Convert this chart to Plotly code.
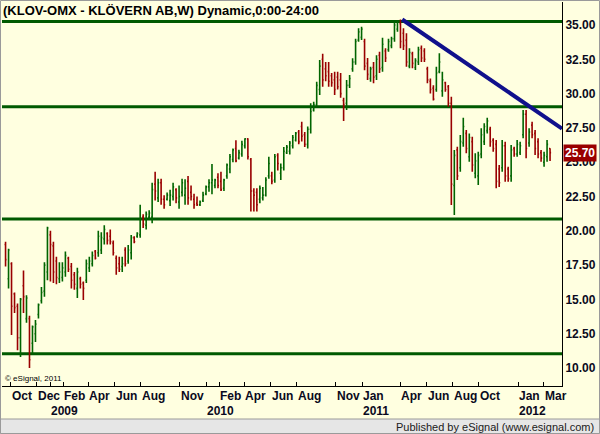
import plotly.graph_objects as go
import pandas as pd

# ---------------- data (weekly OHLC) ----------------
opens = [19.0,16.5,17.6,15.4,14.5,12.2,16.0,13.6,13.6,11.8,12.5,13.9,14.9,15.6,17.0,19.7,18.9,17.8,16.5,16.6,
         17.0,18.0,17.4,16.8,15.8,16.5,16.2,16.4,17.3,17.6,18.5,18.4,18.6,19.4,19.8,19.6,19.1,18.0,17.6,17.4,
         18.6,17.8,18.4,19.5,19.6,19.7,
         21.0,20.4,21.0,21.0,23.4,22.4,23.5,22.3,22.3,22.2,22.5,23.0,22.1,22.8,22.6,23.6,22.8,22.3,22.0,21.9,
         22.2,22.7,23.2,23.5,23.3,23.9,23.6,23.1,24.0,24.5,25.2,26.0,25.3,25.6,26.2,26.7,25.2,22.9,22.8,22.3,
         22.4,22.6,24.0,24.0,23.7,25.5,24.2,24.6,
         25.7,25.8,26.2,26.6,27.2,27.6,27.0,26.3,27.4,28.8,29.2,30.3,32.5,31.8,31.6,31.3,31.0,31.2,31.0,29.5,
         29.3,30.6,31.8,32.3,33.9,34.1,33.8,32.2,31.1,31.9,31.3,32.8,31.9,33.1,33.2,33.5,34.0,34.7,35.1,34.4,
         33.9,32.0,32.9,31.9,32.3,
         33.3,33.1,31.8,30.9,30.4,30.3,31.6,30.2,30.8,30.5,29.3,23.3,25.9,24.6,26.4,27.1,25.4,26.5,24.2,24.0,
         25.6,26.5,27.3,27.4,26.6,26.3,24.5,24.6,26.2,24.5,24.0,26.0,25.6,25.7,27.0,28.5,26.4,27.7,27.1,26.5,
         25.7,25.0,25.4,26.0]
highs = [19.2,18.7,17.7,15.5,14.7,15.1,17.1,15.3,13.8,13.1,13.5,14.7,15.9,17.7,20.3,20.0,19.2,18.1,17.7,17.7,
         18.5,18.1,17.65,17.0,17.3,16.65,16.3,17.9,18.1,18.5,18.6,20.0,19.9,20.4,19.9,20.1,19.3,18.2,18.1,18.1,
         18.8,18.97,19.7,19.6,19.9,21.9,
         21.2,21.4,21.5,23.5,24.3,23.8,23.8,22.6,22.8,23.0,23.5,23.1,23.3,23.8,23.75,24.0,23.3,22.7,22.5,22.2,
         22.85,23.3,23.75,24.87,23.8,24.2,24.3,23.8,24.9,25.6,26.0,26.6,25.9,26.57,26.74,26.74,25.3,23.1,23.1,23.3,
         23.2,23.9,25.4,24.3,25.6,25.65,24.9,26.1,
         26.25,26.54,26.98,27.2,27.35,27.95,27.2,27.6,29.3,29.4,30.86,32.45,32.9,32.3,32.3,31.5,31.6,31.6,31.5,29.7,
         31.0,31.35,32.57,34.0,34.76,34.88,34.0,32.6,31.96,32.3,32.8,33.05,34.07,33.3,34.0,34.15,35.24,35.35,35.4,34.76,
         34.39,33.3,33.05,32.57,33.42,
         33.5,33.3,31.96,31.1,30.6,31.96,32.94,31.6,30.86,30.62,29.77,25.89,26.13,26.98,28.24,27.35,27.1,26.86,25.65,25.77,
         27.47,27.83,28.24,27.59,26.74,26.62,24.8,26.62,26.49,24.67,26.25,26.13,26.62,26.49,28.8,28.8,27.47,27.95,27.35,26.74,
         25.89,25.77,26.62,26.01]
lows = [17.4,15.8,12.4,14.0,11.3,10.8,14.0,13.3,10.0,11.1,11.9,13.6,14.7,15.2,16.4,16.3,16.2,16.1,16.2,16.3,
        16.65,17.0,15.8,15.7,15.1,15.8,14.96,16.2,17.0,17.4,17.9,18.1,18.3,19.0,19.0,19.0,18.2,16.8,17.0,17.0,
        17.4,17.6,17.9,19.1,19.5,19.5,
        20.2,20.1,20.8,20.55,22.2,22.1,21.9,21.6,22.2,21.8,22.2,22.0,21.6,22.5,21.9,21.9,22.2,21.6,21.8,21.8,
        22.1,22.6,22.85,22.66,23.1,23.1,22.9,22.9,23.8,24.2,25.0,25.0,25.2,25.4,26.0,25.2,21.4,21.4,21.4,22.0,
        22.2,22.5,23.8,23.4,23.5,24.4,23.7,24.4,
        25.6,25.57,26.0,26.5,26.3,26.5,26.1,26.0,27.1,28.7,29.05,29.9,30.5,30.9,30.5,30.5,29.9,30.3,29.7,28.0,
        28.8,30.4,31.6,32.1,33.78,33.9,31.7,31.0,30.86,30.75,31.0,31.5,31.6,32.3,33.05,33.3,33.78,34.5,33.3,33.18,
        31.96,31.84,31.84,31.72,32.08,
        32.3,32.3,30.75,30.0,29.5,30.14,31.48,29.77,30.14,29.05,21.88,21.15,23.7,24.31,26.13,25.65,25.04,24.31,23.83,23.34,
        25.28,26.25,27.1,26.13,25.77,23.1,23.2,24.31,23.58,23.58,23.58,25.4,25.4,25.52,26.74,25.28,26.13,26.74,25.52,25.28,
        25.04,24.67,25.04,25.09]
closes = [17.9,18.6,14.5,14.4,12.2,15.0,15.2,15.1,10.6,13.0,13.2,14.6,15.5,17.5,20.2,19.0,17.0,16.6,17.0,17.3,
          18.2,17.2,16.4,16.1,17.0,16.1,15.8,17.6,17.8,18.2,18.0,19.6,19.5,20.1,19.3,19.2,18.4,17.3,17.2,17.6,
          17.6,18.6,19.5,19.2,19.8,20.9,
          20.5,21.2,21.3,23.0,22.9,23.5,22.3,21.9,22.6,22.6,23.2,22.4,22.5,23.5,23.1,22.4,22.5,21.9,21.9,22.1,
          22.6,23.2,23.5,23.7,23.7,23.3,23.0,23.7,24.8,25.4,25.9,25.1,25.7,26.3,26.7,25.4,22.9,22.6,21.9,23.1,
          22.6,23.7,24.9,23.6,25.4,24.9,24.6,25.8,
          26.1,26.4,26.8,27.1,26.5,26.9,26.3,27.4,28.7,29.2,30.6,32.0,31.0,31.3,30.9,30.8,30.3,30.5,30.0,29.2,
          30.6,31.1,32.3,33.8,34.5,34.7,32.0,31.4,31.8,31.2,32.5,31.8,33.6,32.6,33.8,34.0,35.0,35.2,33.8,33.5,
          32.3,33.0,32.2,32.4,33.2,
          32.6,32.5,31.0,30.3,29.6,31.5,32.3,31.0,30.3,29.3,23.4,25.5,24.0,26.5,27.6,26.0,26.8,24.8,25.1,25.5,
          27.0,27.6,28.0,26.5,26.0,23.6,23.5,26.2,24.0,23.8,25.9,25.6,26.3,26.2,28.5,26.0,27.2,27.0,26.0,25.6,
          25.3,25.5,26.3,25.7]
first_week = "2008-09-19"
dates = pd.date_range(first_week, periods=len(closes), freq="7D")

levels = [35.25, 29.05, 20.86, 11.04]              # horizontal support/resistance lines
trend_dates = ["2011-04-05", "2012-04-13"]         # down trend line
trend_values = [35.40, 27.45]

month_ticks = ["2008-10-01", "2008-12-01", "2009-02-01", "2009-04-01", "2009-06-01", "2009-08-01",
               "2009-11-01", "2010-02-01", "2010-04-01", "2010-06-01", "2010-08-01", "2010-11-01",
               "2011-01-01", "2011-04-01", "2011-06-01", "2011-08-01", "2011-10-01", "2012-01-01",
               "2012-03-01"]
month_names = ["Oct", "Dec", "Feb", "Apr", "Jun", "Aug", "Nov", "Feb", "Apr", "Jun", "Aug", "Nov",
               "Jan", "Apr", "Jun", "Aug", "Oct", "Jan", "Mar"]
year_ticks = ["2009-01-01", "2010-01-01", "2011-01-01", "2012-01-01"]
year_names = ["2009", "2010", "2011", "2012"]
y_ticks = [10.0, 12.5, 15.0, 17.5, 20.0, 22.5, 25.0, 27.5, 30.0, 32.5, 35.0]
last_price = 25.70
title_text = "(KLOV-OMX - KLÖVERN AB,W) Dynamic,0:00-24:00"

# ---------------- layout geometry ----------------
W, H = 600, 434
PL, PR, PT, PB = 2, 562, 2, 386          # plot area in pixels
px_per_day = 156.0 / 365.0
anchor_day = pd.Timestamp("2011-01-01")
anchor_px = 362.0
x_left = anchor_day - pd.Timedelta(days=(anchor_px - PL) / px_per_day)
x_right = anchor_day + pd.Timedelta(days=(PR - anchor_px) / px_per_day)
px_per_unit = 343.0 / 25.0
y_bottom = 10.0 - (PB - 368.0) / px_per_unit
y_top = 10.0 + (368.0 - PT) / px_per_unit


def fx(px):
    return (px - PL) / (PR - PL)


def fy(py):
    return (PB - py) / (PB - PT)


FONT = "Liberation Sans, Arial, sans-serif"
TXT = "#0A0A20"
GREEN = "#006400"
RED = "#990000"

fig = go.Figure()
fig.add_trace(go.Ohlc(
    x=dates, open=opens, high=highs, low=lows, close=closes,
    increasing=dict(line=dict(color=GREEN, width=1.6)),
    decreasing=dict(line=dict(color=RED, width=1.6)),
    tickwidth=0.35, hoverinfo="skip", showlegend=False,
))
fig.add_trace(go.Scatter(
    x=trend_dates, y=trend_values, mode="lines",
    line=dict(color="#10108C", width=4), hoverinfo="skip", showlegend=False,
))

shapes = []
for lv in levels:
    shapes.append(dict(type="line", xref="paper", yref="y", x0=0, x1=1, y0=lv, y1=lv,
                       line=dict(color="#005A00", width=3), layer="below"))
# footer band
shapes.append(dict(type="rect", xref="paper", yref="paper", x0=fx(0), x1=fx(W),
                   y0=fy(419), y1=fy(H + 2), fillcolor="#E6E6E6",
                   line=dict(color="#9A9A9A", width=1)))
# outer frame
shapes.append(dict(type="rect", xref="paper", yref="paper", x0=fx(0.5), x1=fx(W - 0.5),
                   y0=fy(H - 0.5), y1=fy(0.5), line=dict(color="#9A9A9A", width=1),
                   fillcolor="rgba(0,0,0,0)"))

annotations = []
for d, name in zip(month_ticks, month_names):
    annotations.append(dict(x=d, xref="x", y=fy(395.5), yref="paper", text=name,
                            xanchor="left", yanchor="middle", showarrow=False,
                            font=dict(family=FONT, size=12, color=TXT, weight="bold"), borderpad=0))
for d, name in zip(year_ticks, year_names):
    annotations.append(dict(x=d, xref="x", y=fy(411), yref="paper", text=name,
                            xanchor="left", yanchor="middle", showarrow=False,
                            font=dict(family=FONT, size=12, color=TXT, weight="bold"), borderpad=0))
annotations.append(dict(x=fx(2), y=fy(10.5), xref="paper", yref="paper", text=title_text,
                        xanchor="left", yanchor="middle", showarrow=False,
                        font=dict(family=FONT, size=13, color="#000000", weight="bold"), borderpad=0))
annotations.append(dict(x=fx(4), y=fy(378.5), xref="paper", yref="paper", text="© eSignal, 2011",
                        xanchor="left", yanchor="middle", showarrow=False,
                        font=dict(family=FONT, size=8, color="#000000"), borderpad=0))
annotations.append(dict(x=fx(595), y=fy(427), xref="paper", yref="paper",
                        text="Published by eSignal (www.esignal.com)",
                        xanchor="right", yanchor="middle", showarrow=False,
                        font=dict(family=FONT, size=11, color="#202020"), borderpad=0))
annotations.append(dict(x=fx(563), y=last_price, xref="paper", yref="y",
                        text=f"{last_price:.2f}", xanchor="left", yanchor="middle", showarrow=False,
                        bgcolor=RED, borderpad=1,
                        font=dict(family=FONT, size=12, color="#FFFFFF", weight="bold")))

fig.update_layout(
    width=W, height=H, margin=dict(l=PL, r=W - PR, t=PT, b=H - PB),
    paper_bgcolor="#FFFFE0", plot_bgcolor="#FFFFE0", showlegend=False,
    shapes=shapes, annotations=annotations,
    xaxis=dict(type="date", range=[x_left, x_right], rangeslider=dict(visible=False),
               showgrid=False, zeroline=False, showline=True, linecolor="#000000", linewidth=1,
               tickvals=month_ticks + year_ticks, ticks="inside", ticklen=4, tickcolor="#000000",
               showticklabels=False),
    yaxis=dict(side="right", range=[y_bottom, y_top], tickvals=y_ticks,
               ticktext=[f"{v:.2f}" for v in y_ticks], ticks="", showgrid=False, zeroline=False,
               showline=True, linecolor="#000000", linewidth=1,
               tickfont=dict(family=FONT, size=12, color=TXT, weight="bold")),
)

fig.write_html("out.html")
